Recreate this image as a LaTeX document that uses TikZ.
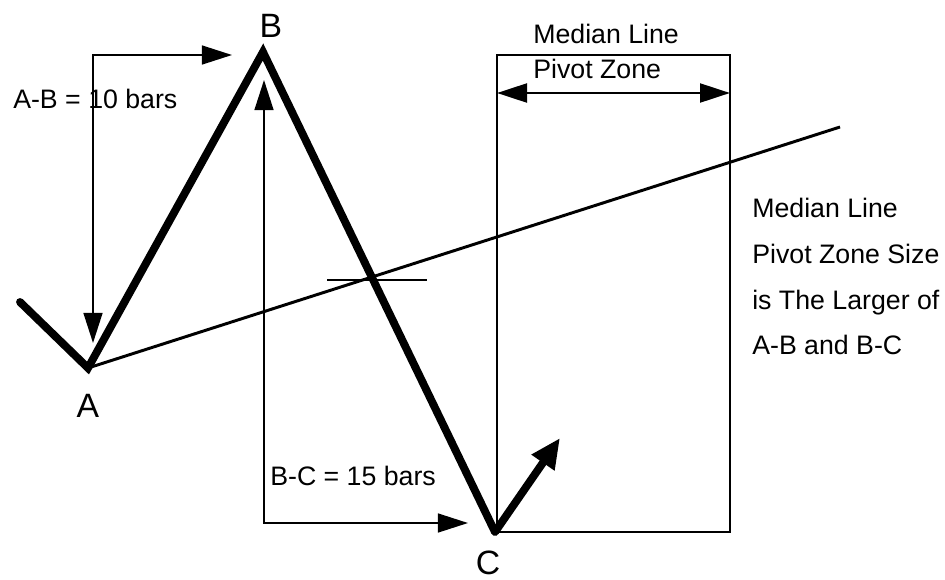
\documentclass[tikz,border=0pt]{standalone}
\usepackage{fontspec}
\setmainfont{Liberation Sans}
\usetikzlibrary{arrows.meta}

\begin{document}
\begin{tikzpicture}[
  x=0.025cm,
  y=-0.025cm,
  price/.style={
      line width=5.6pt,
      line join=miter,
      line cap=round
  },
  arrow/.style={
      {Triangle[length=0.75cm,width=0.47cm]}-{Triangle[length=0.75cm,width=0.47cm]},
      line width=1.4pt
  },
  zone/.style={
      line width=1.1pt
  },
  pt/.style={
      font=\fontsize{24}{28}\selectfont,
      anchor=base,
      inner sep=0pt
  },
  txt/.style={
      font=\fontsize{19}{23}\selectfont,
      anchor=base west,
      inner sep=0pt
  }
]

\useasboundingbox (0,0) rectangle (945,579);

% ==================================================
% Pivots
% ==================================================

\coordinate (start) at (20,302);
\coordinate (A) at (88,368);
\coordinate (B) at (263,52);
\coordinate (C) at (495,532);
\coordinate (up) at (560,438);
\coordinate (mlend) at (840,127);

\node[pt] (labA) at (88,417) {A};
\node[pt] (labB) at (271,37) {B};
\node[pt] (labC) at (488,574) {C};

% ==================================================
% Median Line and Pivot Zone
% ==================================================

\draw[line width=2.1pt]
(A) -- (mlend);

\coordinate (tickL) at (327,280);
\coordinate (tickR) at (427,280);
\draw[line width=1.6pt]
(tickL) -- (tickR);

\coordinate (zoneTL) at (497,55);
\coordinate (zoneBR) at (730,532);
\draw[zone]
(zoneTL) rectangle (zoneBR);

\coordinate (zoneL) at (497,93);
\coordinate (zoneR) at (730,93);
\draw[arrow, line width=2pt]
(zoneL) -- (zoneR);

\node[txt] (zonetitle) at (533,43) {Median Line};
\node[txt] (zonesub) at (533,78) {Pivot Zone};

% ==================================================
% Bar counts
% ==================================================

\coordinate (abTip) at (232,55);
\coordinate (abCorner) at (93,55);
\coordinate (abEnd) at (93,343);
\draw[arrow]
(abTip) -- (abCorner) -- (abEnd);

\coordinate (bcTop) at (264,80);
\coordinate (bcCorner) at (264,523);
\coordinate (bcTip) at (468,523);
\draw[arrow]
(bcTop) -- (bcCorner) -- (bcTip);

\node[txt] (abtext) at (13,108) {A-B = 10 bars};
\node[txt] (bctext) at (270,485) {B-C = 15 bars};

% ==================================================
% Price swing
% ==================================================

\draw[price]
(start) -- (A) -- (B) -- (C);

\draw[price, line cap=butt, -{Triangle[length=0.75cm,width=0.65cm]}]
(C) -- (up);

% ==================================================
% Note
% ==================================================

\node[txt, align=left, anchor=north west,
      font=\fontsize{19}{32.5}\selectfont] (note) at (752,198)
{
Median Line\\
Pivot Zone Size\\
is The Larger of\\
A-B and B-C
};

\end{tikzpicture}
\end{document}
